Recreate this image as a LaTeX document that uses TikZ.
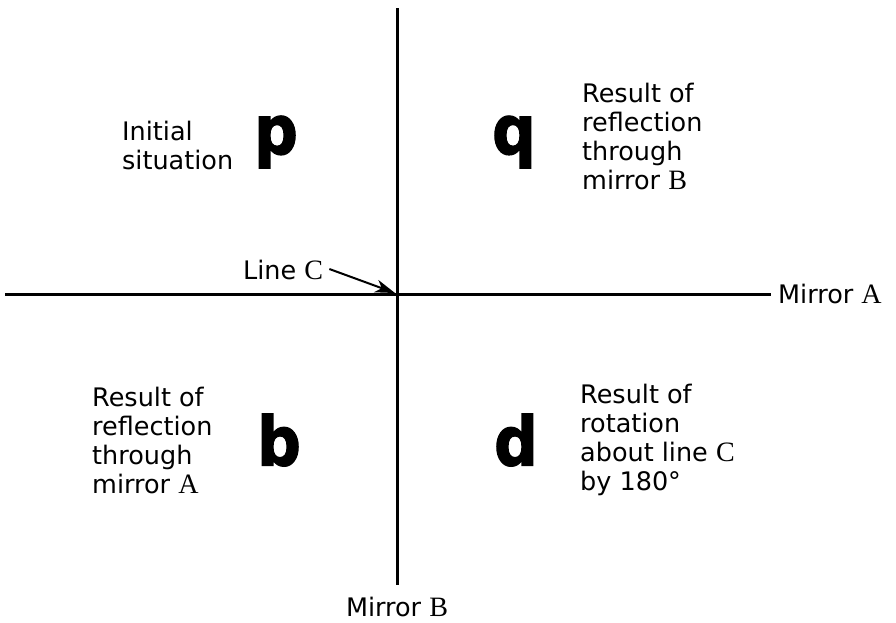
\documentclass[tikz,border=0pt]{standalone}
\usepackage{fontspec}
\usepackage{graphicx}
\setmainfont{DejaVu Sans}
\newfontfamily\serifletter{Liberation Serif}[Scale=1.1]
\newfontfamily\glyphfont{DejaVu Sans Bold}[FakeBold=2]
\usetikzlibrary{arrows.meta,positioning}

\begin{document}
\begin{tikzpicture}[
  x=1pt,y=-1pt,
  mirror/.style={line width=3pt},
  label/.style={font=\fontsize{25.5}{29}\selectfont,align=left,anchor=west,inner sep=0pt},
  glyph/.style={font=\fontsize{68}{68}\glyphfont,inner sep=0pt},
  arrow/.style={-{Stealth[length=20pt,width=13pt,inset=6pt]},line width=2pt},
]
\useasboundingbox (0,0) rectangle (896,622);

% quadrant letters
\node[glyph] (p) at (276,142) {\scalebox{0.9}[1]{p}};
\node[glyph] (q) at (514,142) {\scalebox{0.9}[1]{q}};
\node[glyph] (b) at (279,440) {\scalebox{0.9}[1]{b}};
\node[glyph] (d) at (516,440) {\scalebox{0.9}[1]{d}};

% captions
\node[label] (init)  at (122,145) {Initial\\situation};
\node[label] (reflB) at (582,136) {Result of\\reflection\\through\\mirror {\serifletter B}};
\node[label] (reflA) at (92,440)  {Result of\\reflection\\through\\mirror {\serifletter A}};
\node[label] (rot)   at (580,440) {Result of\\rotation\\about line {\serifletter C}\\by 180°};

% mirrors
\node[label] (mirA) at (778,294) {Mirror {\serifletter A}};
\node[label,anchor=north] (mirB) at (397,597) {Mirror {\serifletter B}};
\coordinate (top)    at (397,8);
\coordinate (left)   at (5,294);
\coordinate (centre) at (397,294);

\draw[mirror] (top) -- ([yshift=12pt]mirB.north);
\draw[mirror] (left) -- ([xshift=-7pt]mirA.west);

% line C
\node[label] (lineC) at (243,270) {Line {\serifletter C}};
\draw[arrow] ([xshift=6pt,yshift=1pt]lineC.east) -- ([xshift=-2pt,yshift=1pt]centre);
\end{tikzpicture}
\end{document}
